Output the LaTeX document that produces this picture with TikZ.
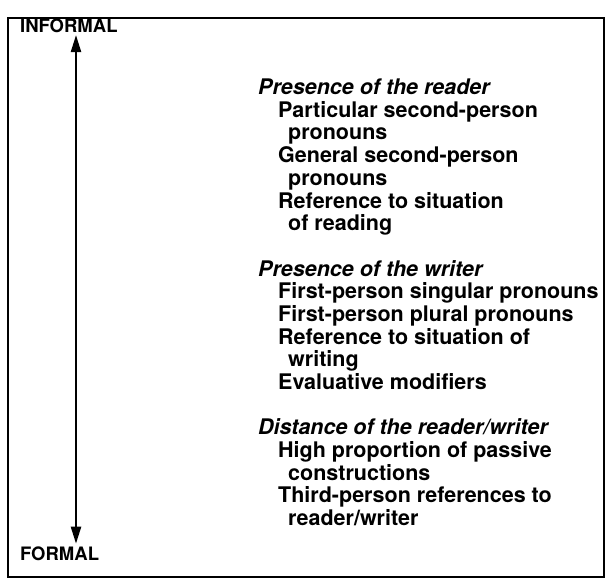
\documentclass[tikz,border=0pt]{standalone}
\usepackage{fontspec}
\setmainfont{TeX Gyre Heros}
\usetikzlibrary{arrows.meta}

\begin{document}
\begin{tikzpicture}[x=1pt,y=-1pt,
		heading/.style={anchor=mid west,inner sep=0pt,font=\fontsize{21.5}{23}\selectfont\bfseries\itshape},
		entry/.style={anchor=mid west,inner sep=0pt,font=\fontsize{21.5}{23}\selectfont\bfseries},
		wrap/.style={entry},
		endlabel/.style={anchor=mid west,inner sep=0pt,font=\fontsize{18.5}{20}\selectfont\bfseries}]
	\useasboundingbox (0,0) rectangle (612,584);
	\draw[line width=2.2pt] (8,18) rectangle (604,577);
	\node[endlabel] (informal) at (20,30) {INFORMAL};
	\node[endlabel] (formal) at (20,558) {FORMAL};
	\coordinate (axis) at (76,0);
	\draw[{Triangle[length=17pt,width=10pt]}-{Triangle[length=17pt,width=10pt]},line width=2.2pt,shorten <=2pt,shorten >=3pt]
		(informal.south -| axis) -- (formal.north -| axis);
	\foreach \n/\x/\st/\t in {0/258/heading/{Presence of the reader},
			1/278/entry/{Particular second-person},2/288/wrap/{pronouns},
			3/278/entry/{General second-person},4/288/wrap/{pronouns},
			5/278/entry/{Reference to situation},6/288/wrap/{of reading},
			8/258/heading/{Presence of the writer},
			9/278/entry/{First-person singular pronouns},
			10/278/entry/{First-person plural pronouns},
			11/278/entry/{Reference to situation of},12/288/wrap/{writing},
			13/278/entry/{Evaluative modifiers},
			15/258/heading/{Distance of the reader/writer},
			16/278/entry/{High proportion of passive},17/288/wrap/{constructions},
			18/278/entry/{Third-person references to},19/288/wrap/{reader/writer}}{
		\node[\st] (line\n) at (\x,{92+22.68*\n}) {\t};
	};
\end{tikzpicture}
\end{document}
